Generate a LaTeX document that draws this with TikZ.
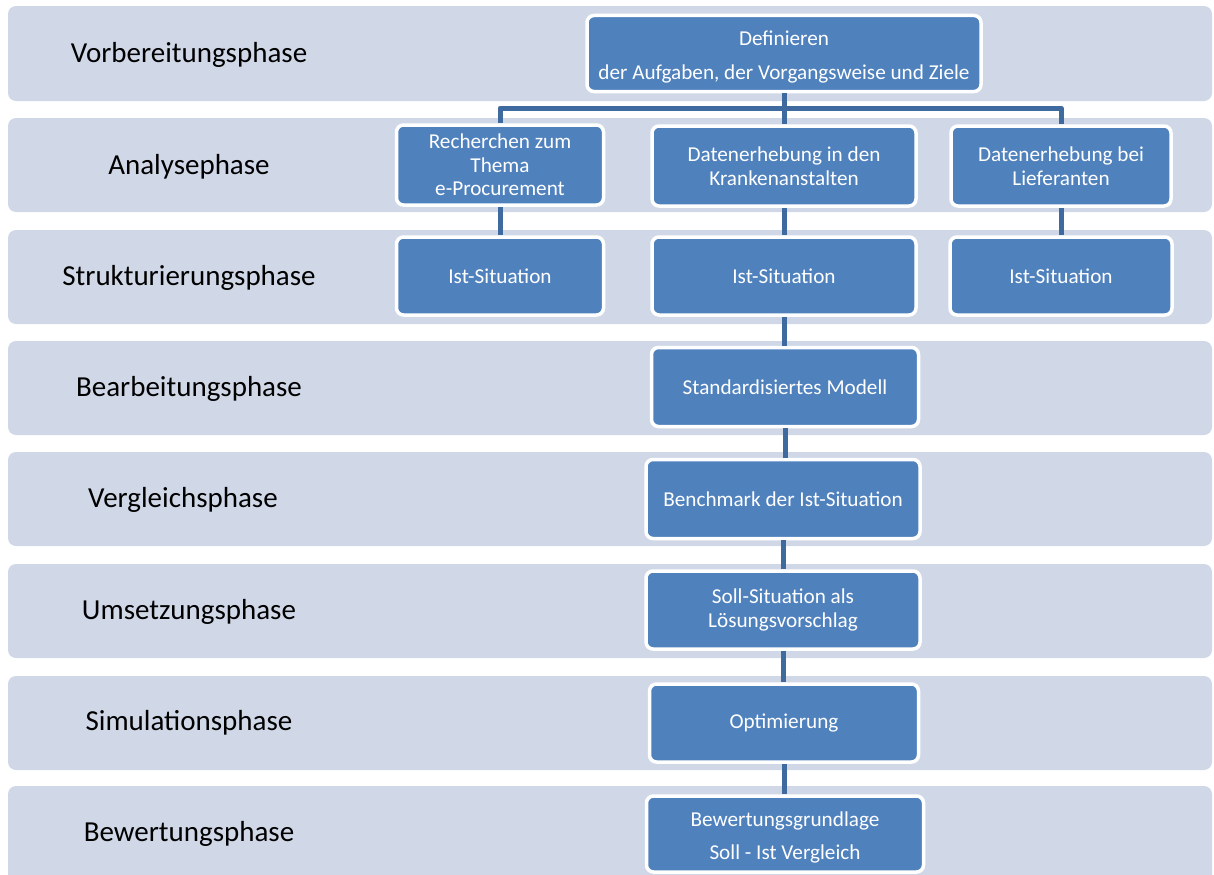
\documentclass[tikz,border=0pt]{standalone}
\usepackage{fontspec}
\setmainfont{Carlito}
\definecolor{bandfill}{RGB}{208,216,232}
\definecolor{boxfill}{RGB}{79,129,189}
\definecolor{linkcol}{RGB}{62,106,160}
\tikzset{
  band/.style={fill=bandfill, rounded corners=8bp},
  phase/.style={font=\fontsize{29bp}{33bp}\selectfont, text=black, anchor=center},
  stepbox/.style={fill=boxfill, draw=white, line width=3.5bp, rounded corners=7bp,
    text=white, align=center, inner sep=0pt,
    font=\fontsize{21.2bp}{23.5bp}\selectfont},
  link/.style={draw=linkcol, line width=5bp, line join=round}
}
\begin{document}
\begin{tikzpicture}[x=1bp, y=-1bp]
\useasboundingbox (0,0) rectangle (1214,875);

% phase bands
\foreach \t/\b in {6/101, 118/212, 230/324, 341/435, 452/546, 564/658, 676/770, 786/890}
  \fill[band] (8,\t) rectangle (1212,\b);

% phase names
\node[phase] (p1) at (189,55)  {Vorbereitungsphase};
\node[phase] (p2) at (189,167) {Analysephase};
\node[phase] (p3) at (189,278) {Strukturierungsphase};
\node[phase] (p4) at (189,389) {Bearbeitungsphase};
\node[phase] (p5) at (183,500) {Vergleichsphase};
\node[phase] (p6) at (189,612) {Umsetzungsphase};
\node[phase] (p7) at (189,723) {Simulationsphase};
\node[phase] (p8) at (189,834) {Bewertungsphase};

% process steps
\node[stepbox, minimum width=394bp, minimum height=76bp] (top) at (784,53.5)
  {\rule{0pt}{22bp}Definieren\\[10bp]der Aufgaben, der Vorgangsweise und Ziele};

\node[stepbox, minimum width=207bp, minimum height=80bp] (ra) at (500,165)
  {Recherchen zum\\Thema\\e-Procurement};
\node[stepbox, minimum width=264bp, minimum height=80bp] (rb) at (784,166)
  {Datenerhebung in den\\Krankenanstalten};
\node[stepbox, minimum width=220bp, minimum height=80bp] (rc) at (1061,166)
  {Datenerhebung bei\\Lieferanten};

\node[stepbox, minimum width=207bp, minimum height=78bp] (sa) at (500,276) {Ist-Situation};
\node[stepbox, minimum width=264bp, minimum height=78bp] (sb) at (784,276) {Ist-Situation};
\node[stepbox, minimum width=222bp, minimum height=78bp] (sc) at (1061,276) {Ist-Situation};

\node[stepbox, minimum width=267bp, minimum height=79bp] (m4) at (785,387) {Standardisiertes Modell};
\node[stepbox, minimum width=274bp, minimum height=79bp] (m5) at (783,499) {Benchmark der Ist-Situation};
\node[stepbox, minimum width=274bp, minimum height=78bp] (m6) at (783,610)
  {Soll-Situation als\\Lösungsvorschlag};
\node[stepbox, minimum width=269bp, minimum height=78bp] (m7) at (784,723) {Optimierung};
\node[stepbox, minimum width=277bp, minimum height=76bp] (m8) at (785,834)
  {\rule{0pt}{22bp}Bewertungsgrundlage\\[10bp]Soll - Ist Vergleich};

% connectors
\coordinate (bus) at (784,108);
\draw[link] (top.south) -- (bus);
\draw[link] (bus) -| (ra.north);
\draw[link] (bus) -| (rc.north);
\draw[link] (bus) -- (rb.north);
\draw[link] (ra.south) -- (sa.north);
\draw[link] (rb.south) -- (sb.north);
\draw[link] (rc.south) -- (sc.north);
\draw[link] (sb.south) -- (sb.south |- m4.north);
\draw[link] (m4.south) -- (m4.south |- m5.north);
\draw[link] (m5.south) -- (m5.south |- m6.north);
\draw[link] (m6.south) -- (m6.south |- m7.north);
\draw[link] (m7.south) -- (m7.south |- m8.north);
\end{tikzpicture}
\end{document}
